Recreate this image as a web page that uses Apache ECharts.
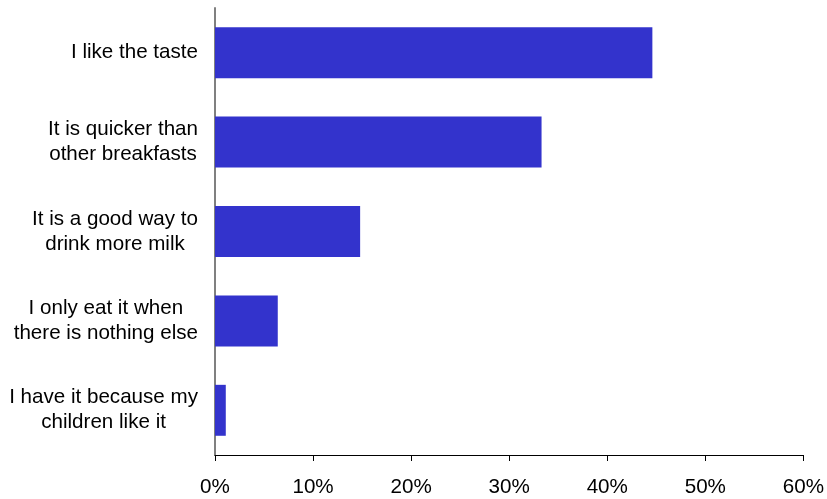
<!DOCTYPE html>
<html>
<head>
<meta charset="utf-8">
<script src="https://cdn.jsdelivr.net/npm/echarts@6/dist/echarts.min.js"></script>
<style>
  html, body { margin: 0; padding: 0; background: #fff; }
  #chart { width: 827px; height: 499px; }
</style>
</head>
<body>
<div id="chart"></div>
<script>
// Reasons given for eating the product (share of respondents, %)
const reasons = [
  'I like the taste',
  'It is quicker than\nother breakfasts',
  'It is a good way to\ndrink more milk',
  'I only eat it when\nthere is nothing else',
  'I have it because my\nchildren like it'
];
const shares = [44.6, 33.3, 14.8, 6.4, 1.1];
const tickValues = [0, 10, 20, 30, 40, 50, 60];

const chart = echarts.init(document.getElementById('chart'), null, { renderer: 'canvas' });

chart.setOption({
  animation: false,
  backgroundColor: '#ffffff',
  grid: { left: 215, right: 22, top: 8, bottom: 44, containLabel: false },
  xAxis: {
    type: 'value',
    min: tickValues[0],
    max: tickValues[tickValues.length - 1],
    interval: 10,
    axisLine: { show: true, lineStyle: { color: '#000000', width: 1 } },
    axisTick: { show: true, length: 6, lineStyle: { color: '#000000' } },
    splitLine: { show: false },
    axisLabel: {
      margin: 22,
      fontFamily: 'Liberation Sans, Arial, sans-serif',
      fontSize: 20.6,
      color: '#000000',
      formatter: v => v + '%'
    }
  },
  yAxis: {
    type: 'category',
    data: reasons,
    inverse: true,
    axisLine: { show: true, lineStyle: { color: '#808080', width: 2 } },
    axisTick: { show: false },
    axisLabel: {
      margin: 17,
      align: 'right',
      formatter: v => v.split('\n').map(s => '{c|' + s + '}').join('\n'),
      rich: {
        c: {
          align: 'center',
          fontFamily: 'Liberation Sans, Arial, sans-serif',
          fontSize: 20.6,
          lineHeight: 25,
          color: '#000000'
        }
      }
    }
  },
  series: [{
    type: 'bar',
    data: shares,
    barWidth: '57%',
    itemStyle: { color: '#3333CC' },
    silent: true
  }]
});
</script>
</body>
</html>
